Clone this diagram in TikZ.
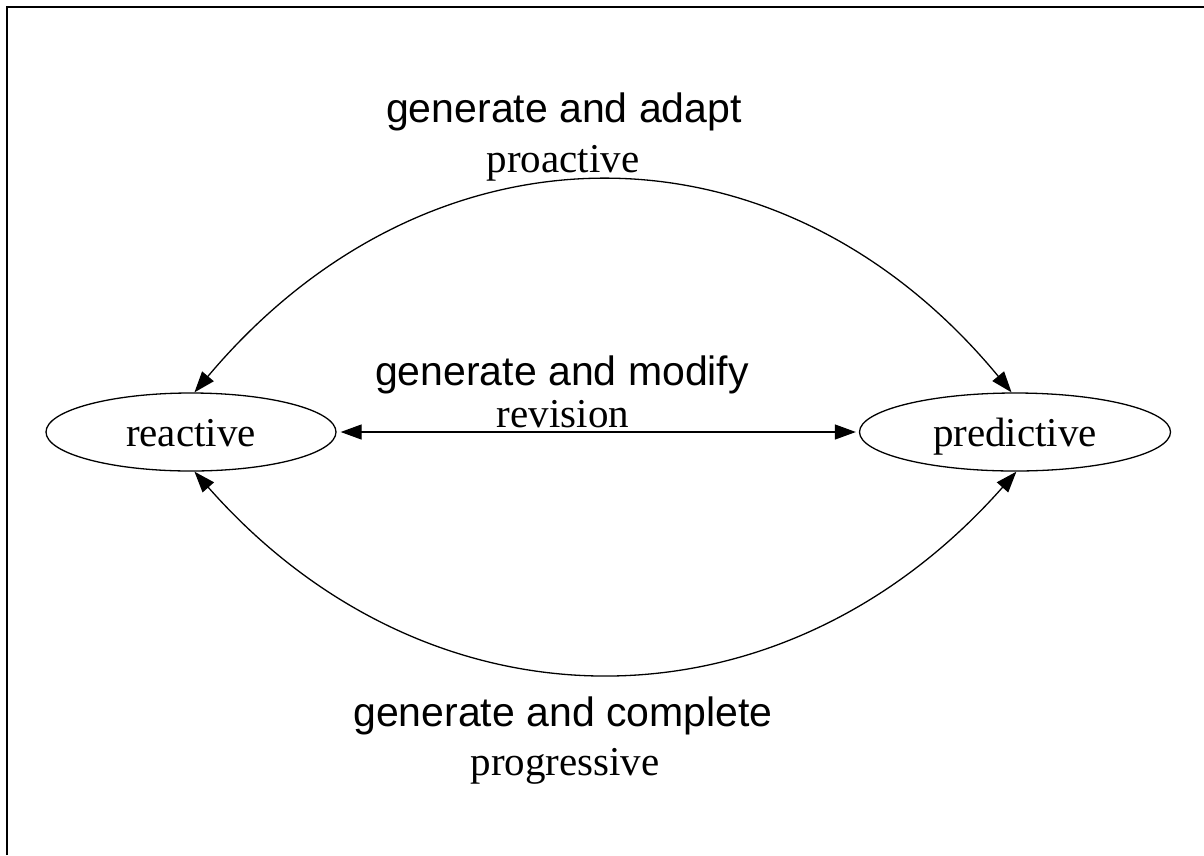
\documentclass[tikz,border=0pt]{standalone}
\usepackage{fontspec}
\setmainfont{Liberation Serif}
\newfontfamily\helv{Liberation Sans}
\usetikzlibrary{arrows.meta,shapes.geometric}
\begin{document}
\begin{tikzpicture}[x=1pt,y=-1pt,
  state/.style={draw,ellipse,line width=1.3pt,inner sep=0pt,text height=28pt,text depth=0pt,font=\fontsize{41}{41}\selectfont},
  edge/.style={line width=1.3pt,{Triangle[length=21pt,width=15pt]}-{Triangle[length=21pt,width=15pt]}},
  title/.style={anchor=base,inner sep=0pt,font=\helv\fontsize{41}{41}\selectfont},
  sub/.style={anchor=base,inner sep=0pt,font=\fontsize{41}{41}\selectfont}]
\useasboundingbox (0,0) rectangle (1204,855);
\draw[line width=2pt] (7,855) -- (7,7) -- (1204,7);
\node[state,minimum width=290pt,minimum height=78pt] (reactive) at (191,432) {reactive};
\node[state,minimum width=311pt,minimum height=78pt] (predictive) at (1015,432) {predictive};
\draw[edge] (reactive.85) .. controls (430,112) and (780,112) .. (predictive.95);
\draw[edge,shorten <=4pt,shorten >=3pt] (reactive) -- (predictive);
\draw[edge] (reactive.-85) .. controls (430,739) and (780,739) .. (predictive.-88);
\node[title] (adapt) at (564,122) {generate and adapt};
\node[sub] (proactive) at (563,172) {proactive};
\node[title] (modify) at (562,385) {generate and modify};
\node[sub] (revision) at (563,427) {revision};
\node[title] (complete) at (563,726) {generate and complete};
\node[sub] (progressive) at (565,775) {progressive};
\end{tikzpicture}
\end{document}
